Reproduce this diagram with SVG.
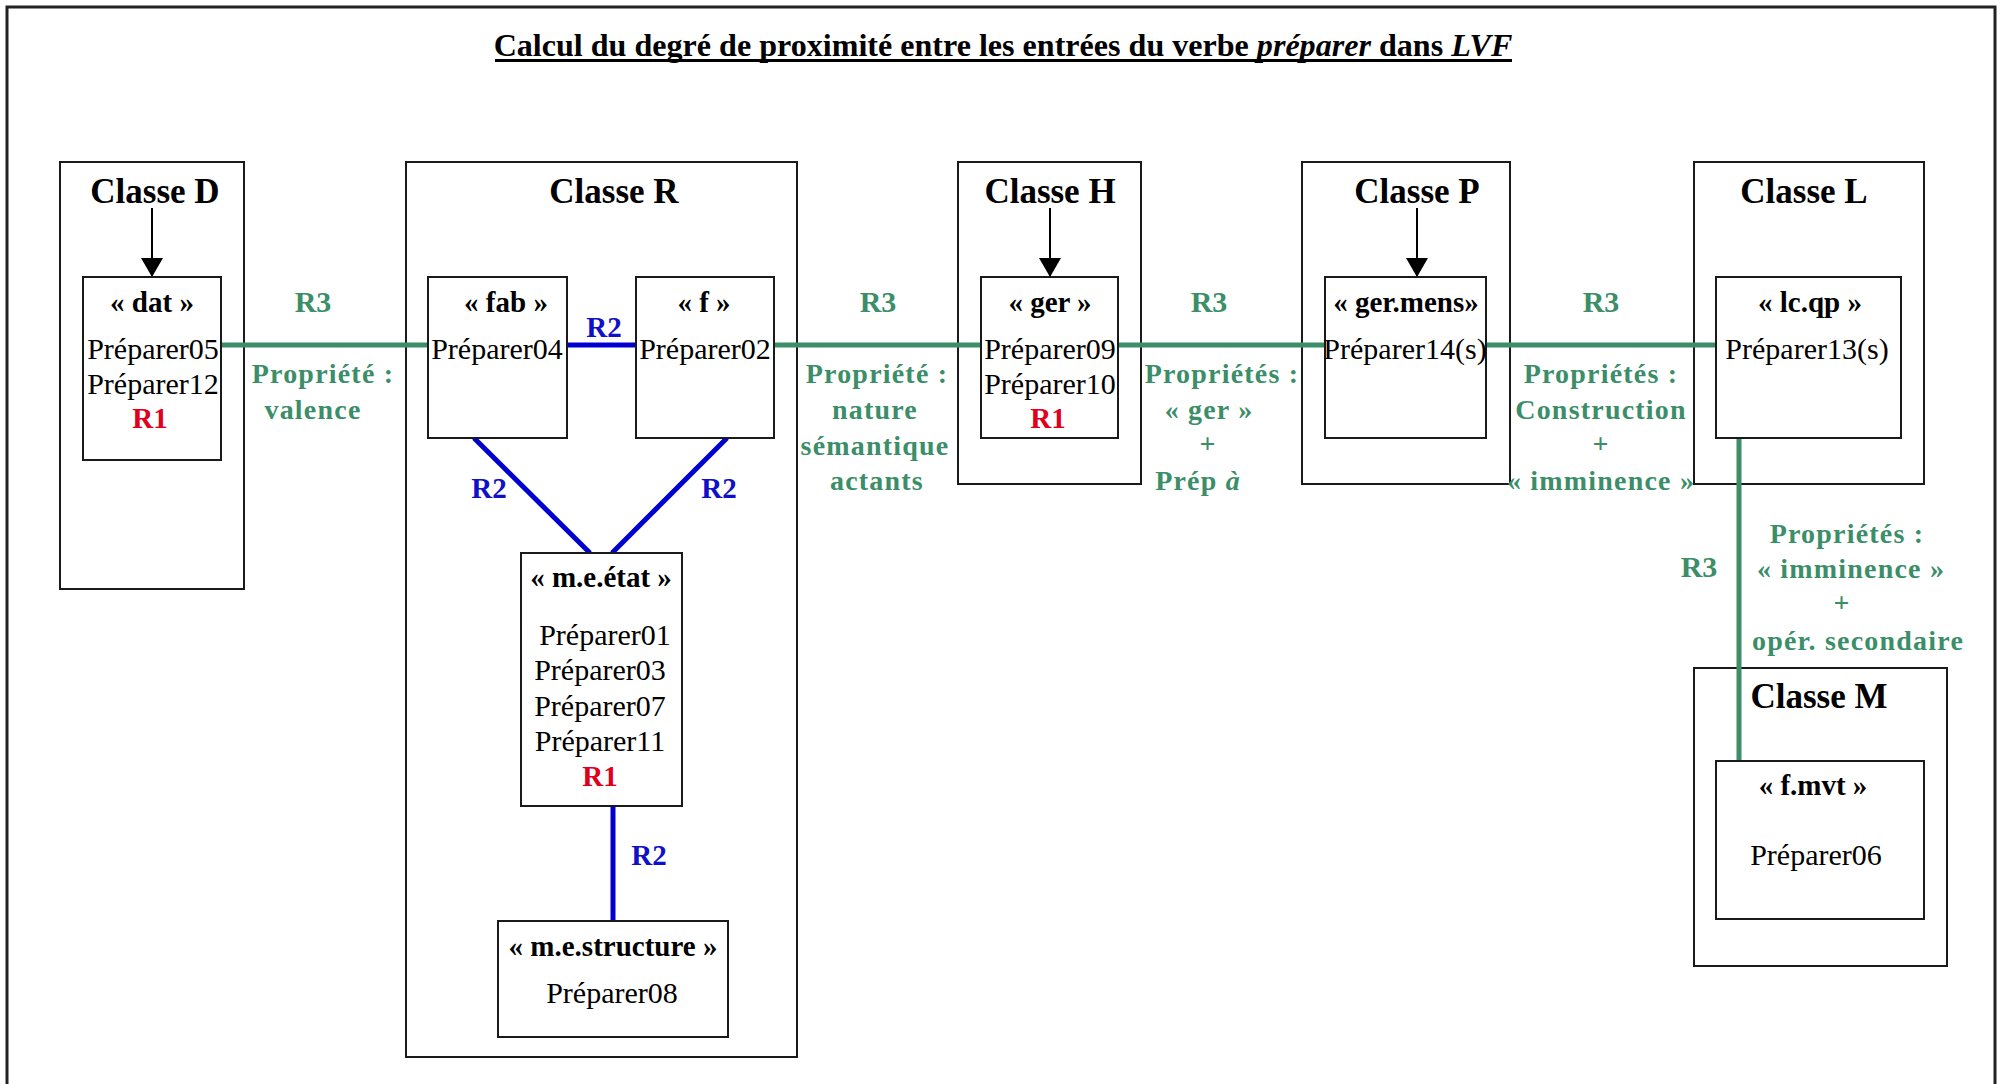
<svg xmlns="http://www.w3.org/2000/svg" width="2002" height="1084" viewBox="0 0 2002 1084">
<defs>
<marker id="arr" viewBox="0 0 19 22" refX="19" refY="11" markerWidth="19" markerHeight="22" markerUnits="userSpaceOnUse" orient="auto">
<path d="M0,0 L19,11 L0,22 Z" fill="#000"/>
</marker>
<style>
text{font-family:"Liberation Serif","Times New Roman",serif;text-anchor:middle}
.cls{fill:none;stroke:#1a1a1a;stroke-width:2}
.box{fill:#fff;stroke:#1a1a1a;stroke-width:2}
.ctitle{font-size:35px;font-weight:bold;fill:#000}
.hdr{font-size:29px;font-weight:bold;fill:#000}
.ent{font-size:30px;fill:#000}
.r1{font-size:29px;font-weight:bold;fill:#e0001b}
.r2{font-size:29px;font-weight:bold;fill:#1010c8}
.r3{font-size:30px;font-weight:bold;fill:#3b8e68}
.prop{font-size:28px;font-weight:bold;fill:#3b8e68;letter-spacing:1.2px}
.g{stroke:#3b8e68;stroke-width:5;fill:none}
.b{stroke:#0000d0;stroke-width:5;fill:none}
.ar{stroke:#000;stroke-width:2;fill:none}
</style>
</defs>
<rect x="0" y="0" width="2002" height="1084" fill="#fff"/>
<rect x="7" y="7" width="1988" height="1100" fill="none" stroke="#222" stroke-width="3"/>
<g id="title">
<text x="1003" y="56" font-size="32.1" font-weight="bold">Calcul du degré de proximité entre les entrées du verbe <tspan font-style="italic">préparer</tspan> dans <tspan font-style="italic">LVF</tspan></text>
<rect x="495" y="59" width="1017" height="3" fill="#000"/>
</g>

<g id="classe-D">
<rect class="cls" x="60" y="162" width="184" height="427"/>
<text class="ctitle" x="155" y="203">Classe D</text>
</g>
<g id="classe-R">
<rect class="cls" x="406" y="162" width="391" height="895"/>
<text class="ctitle" x="614" y="203">Classe R</text>
</g>
<g id="classe-H">
<rect class="cls" x="958" y="162" width="183" height="322"/>
<text class="ctitle" x="1050" y="203">Classe H</text>
</g>
<g id="classe-P">
<rect class="cls" x="1302" y="162" width="208" height="322"/>
<text class="ctitle" x="1417" y="203">Classe P</text>
</g>
<g id="classe-L">
<rect class="cls" x="1694" y="162" width="230" height="322"/>
<text class="ctitle" x="1804" y="203">Classe L</text>
</g>
<g id="classe-M">
<rect class="cls" x="1694" y="668" width="253" height="298"/>
<text class="ctitle" x="1819" y="708">Classe M</text>
</g>

<g id="connectors">
<line class="ar" x1="152" y1="208" x2="152" y2="277" marker-end="url(#arr)"/>
<line class="ar" x1="1050" y1="208" x2="1050" y2="277" marker-end="url(#arr)"/>
<line class="ar" x1="1417" y1="208" x2="1417" y2="277" marker-end="url(#arr)"/>
<line class="g" x1="221" y1="345" x2="428" y2="345"/>
<line class="g" x1="774" y1="345" x2="981" y2="345"/>
<line class="g" x1="1118" y1="345" x2="1325" y2="345"/>
<line class="g" x1="1486" y1="345" x2="1716" y2="345"/>
<line class="g" x1="1739" y1="438" x2="1739" y2="761"/>
<line class="b" x1="567" y1="345" x2="636" y2="345"/>
<line class="b" x1="474" y1="438" x2="590" y2="553"/>
<line class="b" x1="727" y1="438" x2="612" y2="553"/>
<line class="b" x1="613" y1="806" x2="613" y2="921"/>
<text class="r3" x="313" y="312">R3</text>
<text class="prop" x="323" y="383">Propriété :</text>
<text class="prop" x="313" y="419">valence</text>
<text class="r2" x="604" y="337">R2</text>
<text class="r2" x="489" y="498">R2</text>
<text class="r2" x="719" y="498">R2</text>
<text class="r2" x="649" y="865">R2</text>
<text class="r3" x="878" y="312">R3</text>
<text class="prop" x="877" y="383">Propriété :</text>
<text class="prop" x="875" y="419">nature</text>
<text class="prop" x="875" y="455">sémantique</text>
<text class="prop" x="877" y="490">actants</text>
<text class="r3" x="1209" y="312">R3</text>
<text class="prop" x="1222" y="383">Propriétés :</text>
<text class="prop" x="1209" y="419">« ger »</text>
<text class="prop" x="1208" y="453" font-weight="normal">+</text>
<text class="prop" x="1198" y="490">Prép <tspan font-style="italic">à</tspan></text>
<text class="r3" x="1601" y="312">R3</text>
<text class="prop" x="1601" y="383">Propriétés :</text>
<text class="prop" x="1601" y="419" letter-spacing="0">Construction</text>
<text class="prop" x="1601" y="453" font-weight="normal">+</text>
<text class="prop" x="1601" y="490">« imminence »</text>
<text class="r3" x="1699" y="577">R3</text>
<text class="prop" x="1847" y="543">Propriétés :</text>
<text class="prop" x="1851" y="578">« imminence »</text>
<text class="prop" x="1842" y="612" font-weight="normal">+</text>
<text class="prop" x="1858" y="650">opér. secondaire</text>
</g>

<g id="node-dat">
<rect class="box" x="83" y="277" width="138" height="183"/>
<text class="hdr" x="152" y="312">« dat »</text>
<text class="ent" x="153" y="359">Préparer05</text>
<text class="ent" x="153" y="394">Préparer12</text>
<text class="r1" x="150" y="428">R1</text>
</g>
<g id="node-fab">
<rect class="box" x="428" y="277" width="139" height="161"/>
<text class="hdr" x="506" y="312">« fab »</text>
<text class="ent" x="497" y="359">Préparer04</text>
</g>
<g id="node-f">
<rect class="box" x="636" y="277" width="138" height="161"/>
<text class="hdr" x="704" y="312">« f »</text>
<text class="ent" x="705" y="359">Préparer02</text>
</g>
<g id="node-me-etat">
<rect class="box" x="521" y="553" width="161" height="253"/>
<text class="hdr" x="601" y="587">« m.e.état »</text>
<text class="ent" x="605" y="645">Préparer01</text>
<text class="ent" x="600" y="680">Préparer03</text>
<text class="ent" x="600" y="716">Préparer07</text>
<text class="ent" x="600" y="751">Préparer11</text>
<text class="r1" x="600" y="786">R1</text>
</g>
<g id="node-me-structure">
<rect class="box" x="498" y="921" width="230" height="116"/>
<text class="hdr" x="613" y="956">« m.e.structure »</text>
<text class="ent" x="612" y="1003">Préparer08</text>
</g>
<g id="node-ger">
<rect class="box" x="981" y="277" width="137" height="161"/>
<text class="hdr" x="1050" y="312">« ger »</text>
<text class="ent" x="1050" y="359">Préparer09</text>
<text class="ent" x="1050" y="394">Préparer10</text>
<text class="r1" x="1048" y="428">R1</text>
</g>
<g id="node-ger-mens">
<rect class="box" x="1325" y="277" width="161" height="161"/>
<text class="hdr" x="1406" y="312">« ger.mens»</text>
<text class="ent" x="1405" y="359">Préparer14(s)</text>
</g>
<g id="node-lc-qp">
<rect class="box" x="1716" y="277" width="185" height="161"/>
<text class="hdr" x="1810" y="312">« lc.qp »</text>
<text class="ent" x="1807" y="359">Préparer13(s)</text>
</g>
<g id="node-f-mvt">
<rect class="box" x="1716" y="761" width="208" height="158"/>
<text class="hdr" x="1813" y="795">« f.mvt »</text>
<text class="ent" x="1816" y="865">Préparer06</text>
</g>
</svg>
